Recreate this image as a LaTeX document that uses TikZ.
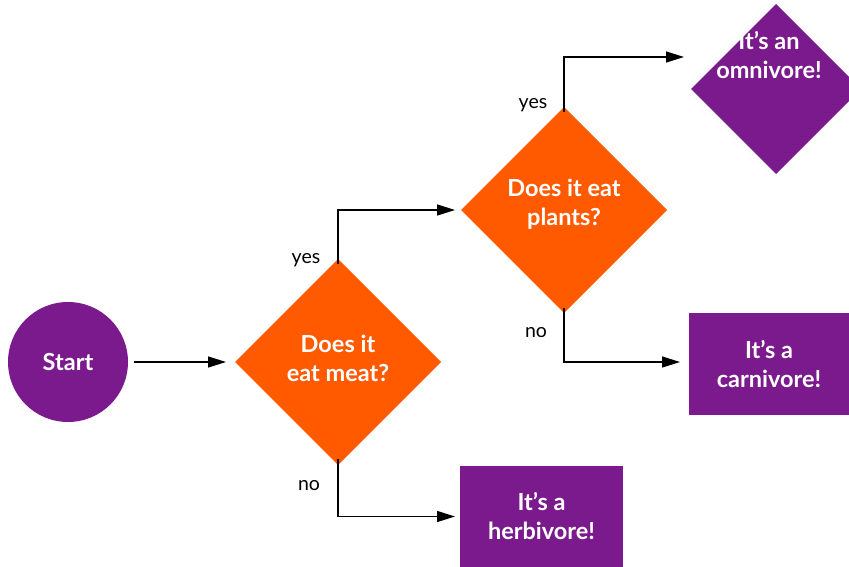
\documentclass[tikz,border=0pt]{standalone}
\usepackage{fontspec}
\setmainfont{Lato}
\usetikzlibrary{arrows.meta,shapes.geometric}
\definecolor{plum}{HTML}{7A1A8C}
\definecolor{tangerine}{HTML}{FF5A00}
\begin{document}
\begin{tikzpicture}[x=1pt,y=-1pt,
  every node/.style={inner sep=0pt,outer sep=0pt},
  boxtext/.style={text=white,font=\fontsize{23.5}{29}\selectfont\bfseries,align=center},
  question/.style={diamond,fill=tangerine,minimum width=206pt,minimum height=206pt,aspect=1},
  endbox/.style={rectangle,fill=plum},
  answer/.style={font=\fontsize{19.5}{22}\selectfont},
  flow/.style={line width=1.4pt,-{Triangle[length=18pt,width=11pt]}}]
\useasboundingbox (0,0) rectangle (849,567);
\clip (0,0) rectangle (849,567);
% start
\node[circle,fill=plum,minimum size=120pt,boxtext] (start) at (68,362) {Start};
% questions
\node[question] (meat) at (338,362) {};
\node[boxtext] at (338,358) {Does it\\eat meat?};
\node[question] (plants) at (564,210) {};
\node[boxtext] at (564,204) {Does it eat\\plants?};
% outcomes
\node[diamond,fill=plum,minimum width=170pt,minimum height=170pt] (omni) at (776,89) {};
\node[boxtext] at (769,55) {It’s an\\omnivore!};
\node[endbox,minimum width=160pt,minimum height=102pt,boxtext] (carni) at (769,364) {It’s a\\carnivore!};
\node[endbox,minimum width=163pt,minimum height=101pt,boxtext] (herbi) at (541.5,516.5) {It’s a\\herbivore!};
% connectors
\coordinate (c1) at (134,362);
\draw[flow] (c1) -- ([xshift=-9pt]meat.west);
\draw[flow] ([yshift=-5pt]meat.north) |- ([xshift=-6pt]plants.west);
\draw[flow] ([yshift=6pt]meat.south) |- ([xshift=-5pt]herbi.west);
\draw[flow] ([yshift=-5pt]plants.north) |- ([xshift=-7pt]omni.west |- 0,57);
\draw[flow] ([yshift=5pt]plants.south) |- ([xshift=-9pt]carni.west |- 0,362);
% answer labels
\node[answer] (y1) at (306,260) {yes};
\node[answer] (n1) at (309,486) {no};
\node[answer] (y2) at (533,105) {yes};
\node[answer] (n2) at (536,333) {no};
\end{tikzpicture}
\end{document}
